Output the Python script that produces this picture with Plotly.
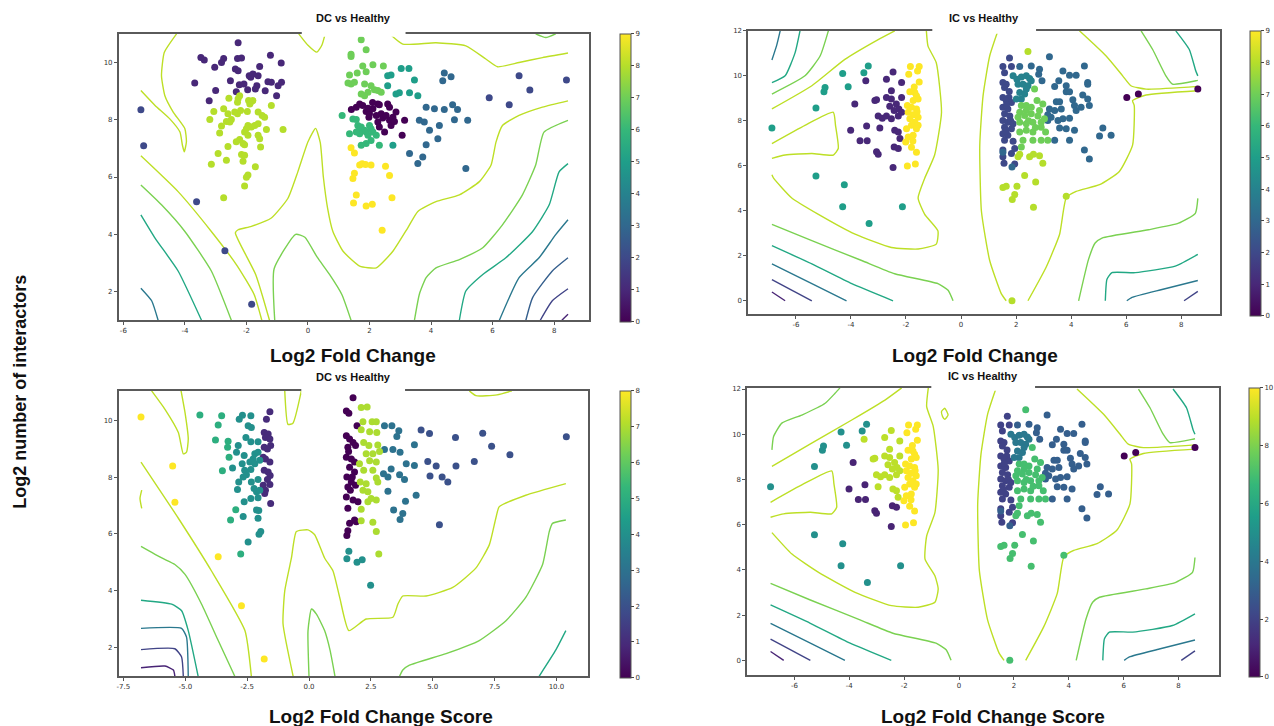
import plotly.graph_objects as go

# ---------------- colours of contour levels ----------------
LVL = {"yg": "#bddf26", "g": "#7ad151", "tg": "#22a884", "t": "#2a788e",
       "b2": "#355f8d", "b": "#414487", "p": "#482475"}

# ================= Panel 1 : DC vs Healthy, Log2 Fold Change =================
dc_fc_c0 = [(1.41,8.36),(1.57,8.44),(1.68,8.55),(1.78,8.5),(1.89,8.29),(1.98,8.09),(2.0,8.21),(2.11,8.38),
            (2.27,8.55),(2.32,8.52),(2.22,8.15),(2.27,7.92),(2.38,8.21),(2.43,8.06),(2.54,8.15),(2.59,8.55),
            (2.65,8.44),(2.65,7.98),(2.7,7.8),(2.76,8.09),(2.86,8.27),(2.81,7.94),(3.14,7.98),(3.06,7.46),
            (2.49,7.57),(2.32,7.75),(1.95,8.4),(2.1,8.6)]
dc_fc_c1 = [(-2.27,10.69),(-3.48,10.17),(-3.37,10.09),(-2.74,10.14),(-2.29,10.14),(-2.16,10.16),(-1.22,10.25),
            (-3.03,9.83),(-2.81,10.0),(-2.36,9.77),(-2.27,9.71),(-1.57,9.86),(-0.87,9.98),(-3.68,9.28),(-3.0,9.02),
            (-2.52,9.36),(-2.23,9.22),(-2.08,9.25),(-1.91,9.54),(-1.86,9.48),(-1.79,9.6),(-1.62,9.54),(-1.66,9.19),
            (-1.71,9.07),(-1.39,9.01),(-1.3,9.33),(-1.19,9.31),(-0.97,9.19),(-0.86,9.31),(-1.96,9.05),(-2.33,8.98),
            (-3.21,8.66),(-1.02,8.84)]
dc_fc_c2 = [(-5.43,8.35),(-5.34,7.09),(-3.62,5.14),(-2.7,3.43),(-1.83,1.56),
            (5.89,8.77),(6.54,8.52),(6.86,9.54),(7.21,9.04),(8.40,9.39)]
dc_fc_c3 = [(4.43,9.63),(4.38,9.36),(4.65,9.5),(3.84,8.44),(4.11,8.38),(4.43,8.36),(4.70,8.52),(4.86,8.36),
            (3.62,7.98),(3.78,7.92),(4.27,7.8),(4.76,8.0),(5.19,7.98),(3.95,7.63),(4.22,7.34),(3.84,7.13),
            (3.30,6.82),(3.73,6.70),(3.57,6.47),(5.13,6.30)]
dc_fc_c5 = [(2.59,9.54),(2.70,9.56),(3.03,9.79),(3.28,9.79),(2.59,9.19),(2.86,8.9),(2.97,8.94),(3.3,8.94),
            (3.57,8.84),(2.76,7.11),(3.46,9.39)]
dc_fc_c6 = [(1.11,8.15),(1.46,8.03),(1.57,8.01),(1.62,7.8),(1.68,7.69),(1.73,7.75),(1.84,7.63),(1.89,7.57),
            (2.0,7.8),(2.05,7.69),(2.11,7.57),(1.68,7.51),(1.57,7.57),(1.35,7.51),(1.95,7.46),(2.22,7.46),
            (2.05,7.28),(1.89,7.17),(2.32,7.11),(1.73,7.11)]
dc_fc_c7 = [(1.73,10.79),(1.89,10.44),(1.40,10.29),(1.40,10.21),(1.78,9.88),(2.11,9.92),(2.45,9.88),(1.35,9.56),
            (1.6,9.63),(1.89,9.68),(1.30,9.28),(1.40,9.25),(1.51,9.31),(1.84,9.25),(1.95,8.96),(2.16,9.05),
            (2.27,9.02),(2.38,8.96),(1.73,8.9),(1.84,8.84),(2.05,9.19)]
dc_fc_c8 = [(-2.57,8.75),(-2.27,8.73),(-2.22,8.84),(-2.29,8.61),(-1.93,8.67),(-1.84,8.64),(-1.79,8.67),(-1.89,8.55),
            (-3.06,8.29),(-2.74,8.38),(-2.6,8.21),(-2.38,8.27),(-2.29,8.21),(-2.19,8.32),(-2.49,8.01),(-2.65,7.94),
            (-2.54,7.92),(-3.19,8.01),(-1.97,8.29),(-1.62,8.27),(-1.49,8.15),(-1.41,8.09),(-1.19,8.5),(-2.81,7.78),
            (-2.87,7.54),(-1.95,7.8),(-1.84,7.75),(-2.0,7.69),(-1.73,7.8),(-1.62,7.86),(-1.35,7.66),(-0.81,7.66),
            (-2.06,7.57),(-1.95,7.46),(-1.62,7.46),(-2.22,7.31),(-2.33,7.23),(-2.6,7.07),(-2.11,7.17),(-2.06,7.13),
            (-1.57,7.34),(-1.54,7.05),(-2.92,6.82),(-2.65,6.59),(-2.16,6.79),(-2.06,6.76),(-2.11,6.55),(-3.14,6.45),
            (-1.71,6.36),(-1.95,6.07),(-2.0,5.99),(-2.06,5.69),(-2.74,5.28)]
dc_fc_c9 = [(1.40,7.02),(1.51,6.84),(1.68,6.42),(1.76,6.46),(1.87,6.44),(2.05,6.42),(2.52,6.38),(2.65,6.05),
            (1.51,6.13),(1.46,5.95),(1.57,5.37),(1.48,5.09),(1.89,4.99),(2.09,5.05),(2.73,5.28),(2.41,4.14)]
DC_FC_CLUSTERS = [(0, dc_fc_c0), (1, dc_fc_c1), (2, dc_fc_c2), (3, dc_fc_c3), (5, dc_fc_c5),
                  (6, dc_fc_c6), (7, dc_fc_c7), (8, dc_fc_c8), (9, dc_fc_c9)]

DC_FC_LINES = [
    ("yg", [(-5.43,9.02),(-4.97,8.50),(-4.49,8.03),(-4.16,7.57),(-4.08,7.11),(-4.02,6.88),(-3.95,7.23),(-4.0,7.69),
            (-4.38,8.27),(-4.65,8.84),(-4.76,9.54),(-4.67,10.35),(-4.27,11.0)]),
    ("yg", [(-5.43,6.74),(-4.22,5.49),(-3.14,4.10),(-2.3,2.9),(-1.75,1.9),(-1.5,1.0)]),
    ("yg", [(-0.30,11.0),(0.0,10.6),(0.29,10.36),(0.45,10.6),(0.56,11.0)]),
    ("yg", [(2.65,11.0),(3.08,10.64),(4.16,10.69),(5.13,10.58),(5.78,10.12),(6.16,9.85),(6.86,10.0),(7.62,10.17),
            (8.45,10.33)]),
    ("yg", [(-1.25,1.0),(-1.7,2.6),(-2.36,4.05),(-2.27,4.16),(-1.84,4.28),(-1.19,4.57),(-0.65,5.26),(-0.33,6.18),
            (0.0,7.23),(0.25,7.7),(0.4,7.2),(0.5,6.0),(0.64,4.9),(0.81,4.10),(1.14,3.41),(1.68,2.89),(2.22,2.83),
            (2.76,3.41),(3.24,4.22),(3.57,4.80),(4.16,5.14),(4.92,5.38),(5.57,5.84),(5.95,6.42),(6.11,7.22),
            (6.32,7.80),(6.86,8.15),(7.62,8.44),(8.45,8.66)]),
    ("g", [(-1.08,1.0),(-1.1,2.8),(-0.4,4.0),(-0.1,3.9),(0.3,3.2),(0.7,2.6),(1.1,1.9),(1.4,1.0)]),
    ("g", [(-5.43,5.72),(-4.76,5.03),(-4.0,4.10),(-3.14,2.72),(-2.49,1.0)]),
    ("tg", [(-5.43,4.68),(-4.97,3.87),(-4.22,2.72),(-3.46,1.0)]),
    ("t", [(-5.43,2.12),(-5.08,1.68),(-4.87,1.0)]),
    ("g", [(7.4,11.0),(7.73,10.87),(8.05,11.0)]),
    ("g", [(8.45,7.98),(7.67,7.57),(7.40,6.42),(6.97,5.38),(6.32,4.33),(5.68,3.53),(4.92,3.12),(4.16,2.83),
           (3.84,2.49),(3.62,1.91),(3.46,1.0)]),
    ("tg", [(8.45,6.47),(8.16,6.18),(7.84,5.03),(7.30,4.10),(6.43,3.18),(5.68,2.60),(5.13,2.02),(4.92,1.0)]),
    ("t", [(8.45,4.51),(8.05,3.99),(7.51,3.18),(6.86,2.49),(6.22,1.0)]),
    ("b2", [(8.45,3.18),(7.94,2.72),(7.30,1.79),(7.08,1.0)]),
    ("b", [(8.45,2.1),(7.94,1.68),(7.55,1.0)]),
    ("p", [(8.45,1.21),(8.25,1.0)]),
]

# ================= Panel 3 : DC vs Healthy, Log2 Fold Change Score =================
dc_sc_c0 = [(1.78,10.8),(1.51,10.33),(1.61,10.25),(1.94,9.81),(1.51,9.46),(1.64,9.34),(1.78,9.22),(1.57,9.05),
            (1.88,9.11),(1.51,8.7),(1.71,8.64),(1.84,8.53),(1.64,8.35),(1.84,8.18),(1.53,8.0),(1.71,7.83),
            (1.88,7.71),(1.57,7.65),(1.67,7.54),(1.51,7.3),(1.78,7.19),(1.98,7.13),(1.57,6.9),(1.84,6.49),
            (1.64,6.37),(1.57,6.11),(1.53,5.94),(1.91,6.43),(1.6,8.9),(1.75,8.0)]
dc_sc_c1 = [(-1.58,10.3),(-1.72,10.04),(-1.81,9.57),(-1.65,9.52),(-1.76,9.4),(-1.58,9.34),(-1.55,9.11),(-1.81,9.05),
            (-1.68,8.99),(-1.85,8.7),(-1.76,8.64),(-1.58,8.53),(-1.81,8.24),(-1.65,8.18),(-1.57,8.06),(-1.68,7.92),
            (-1.85,7.71),(-1.58,7.74),(-1.76,7.54),(-1.55,7.07),(-1.79,7.42)]
dc_sc_c2 = [(5.92,9.4),(7.02,9.55),(7.38,9.09),(8.12,8.79),(10.4,9.42),(5.14,8.39),(5.94,8.39),(6.68,8.55),
            (5.38,8.0),(5.61,7.83),(5.27,6.32),(4.87,9.54),(4.53,9.66),(4.80,8.55),(4.89,8.04)]
dc_sc_c3 = [(3.05,9.81),(3.35,9.81),(3.55,9.43),(3.63,9.63),(4.26,9.14),(3.05,8.97),(3.39,8.97),(3.68,8.88),
            (3.93,8.47),(4.26,8.41),(3.32,8.29),(3.01,8.12),(3.19,8.0),(3.66,8.08),(3.86,7.92),(3.19,7.5),
            (4.33,7.36),(3.90,7.15),(3.42,6.84),(3.79,6.72),(3.68,6.51)]
dc_sc_c4 = [(-3.09,8.32),(-2.82,10.04),(-2.69,10.18),(-2.35,10.16),(-2.46,9.81),(-2.33,9.75),(-2.55,9.4),(-2.86,9.11),
            (-2.35,9.25),(-2.06,9.25),(-2.93,8.88),(-2.62,8.76),(-2.19,8.82),(-2.06,8.88),(-2.26,8.64),(-2.39,8.53),
            (-2.7,8.47),(-2.19,8.47),(-1.99,8.59),(-2.6,8.24),(-2.35,8.27),(-2.66,8.0),(-2.53,8.08),(-2.84,7.83),
            (-2.33,7.83),(-2.06,7.92),(-2.89,7.56),(-2.22,7.6),(-2.12,7.48),(-1.99,7.54),(-2.06,7.27),(-2.62,7.13),
            (-2.35,7.25),(-2.12,6.84),(-2.03,6.82),(-2.66,6.61),(-2.06,6.55),(-1.95,6.08),(-2.02,5.99),(-2.46,5.71),
            (1.61,5.39),(1.53,5.12),(1.94,5.0),(2.15,5.09),(2.49,4.19)]
dc_sc_c5 = [(-4.41,10.19),(-3.53,10.16),(-3.67,9.84),(-3.78,9.31),(-3.27,9.26),(-3.29,9.05),(-3.23,8.7),(-3.5,8.22),
            (-2.96,6.85),(-3.17,6.49),(-2.76,5.29)]
dc_sc_c7 = [(2.11,10.45),(2.35,10.47),(2.18,9.95),(2.55,9.95),(2.72,9.95),(2.11,9.67),(2.45,9.6),(2.74,9.57),
            (2.21,9.22),(2.42,9.11),(2.78,9.13),(2.85,8.9),(2.31,8.82),(2.58,8.82),(2.45,8.58),(2.72,8.53),
            (2.04,8.47),(2.21,8.24),(2.58,8.24),(2.72,7.97),(2.78,7.83),(2.31,7.77),(2.07,7.83),(2.18,7.54),
            (2.38,7.48),(2.51,7.25),(2.72,7.19),(2.38,7.13),(2.11,6.87),(2.11,6.46),(2.58,6.41),(2.72,6.08),
            (2.82,5.29)]
dc_sc_c8 = [(-6.79,10.12),(-5.51,8.39),(-5.42,7.11),(-3.67,5.19),(-2.73,3.47),(-1.81,1.59)]
DC_SC_CLUSTERS = [(0, dc_sc_c0), (1, dc_sc_c1), (2, dc_sc_c2), (3, dc_sc_c3), (4, dc_sc_c4),
                  (5, dc_sc_c5), (7, dc_sc_c7), (8, dc_sc_c8)]

DC_SC_LINES = [
    ("yg", [(-6.36,11.04),(-5.82,10.39),(-5.28,9.57),(-5.08,8.82),(-4.95,8.88),(-4.88,9.34),(-5.01,10.27),(-5.17,11.04)]),
    ("yg", [(-6.79,8.53),(-5.28,6.55),(-3.94,4.69),(-2.59,2.59),(-2.33,0.98)]),
    ("yg", [(-6.76,7.54),(-6.83,7.25),(-6.76,6.9)]),
    ("g", [(-6.79,5.56),(-5.95,5.15),(-5.42,4.92),(-5.01,4.57),(-4.34,3.52),(-3.67,2.24),(-3.0,0.98)]),
    ("tg", [(-6.79,3.66),(-5.55,3.52),(-5.15,3.29),(-4.88,2.59),(-4.48,0.98)]),
    ("t", [(-6.79,2.67),(-5.15,2.67),(-4.95,2.36),(-4.88,0.98)]),
    ("b", [(-6.79,1.92),(-5.42,1.95),(-5.15,1.66),(-5.08,0.98)]),
    ("p", [(-6.79,1.28),(-5.82,1.34),(-5.48,1.2),(-5.42,0.98)]),
    ("yg", [(-0.98,11.04),(-0.85,9.86),(-0.65,9.9),(-0.31,11.04)]),
    ("yg", [(-0.64,0.98),(-1.05,2.83),(-0.98,3.99),(-0.71,5.15),(-0.51,6.08),(-0.04,6.14),(0.23,5.97),(0.63,5.15),
            (0.97,4.69),(1.24,3.76),(1.61,2.59),(2.31,3.0),(3.39,3.06),(3.59,3.52),(3.79,3.81),(4.73,3.81),
            (5.81,4.11),(6.75,4.80),(7.29,5.62),(7.55,6.55),(7.69,6.96),(8.76,7.36),(10.38,7.77)]),
    ("yg", [(6.48,11.04),(6.75,10.87),(7.6,10.9),(8.2,11.04)]),
    ("g", [(0.0,0.98),(-0.04,2.59),(0.10,3.35),(0.30,3.17),(0.63,2.59),(0.85,1.9),(1.05,0.98)]),
    ("g", [(10.38,6.49),(9.84,6.37),(9.71,6.08),(9.44,4.92),(8.76,3.76),(7.96,2.94),(6.88,2.24),(5.54,1.78),
           (4.06,1.37),(3.79,1.2),(3.66,0.98)]),
    ("tg", [(10.38,2.59),(9.97,1.9),(9.3,0.98)]),
]

# ================= Panels 2 & 4 : IC vs Healthy (same points, two clusterings) =================
ic_outliers = [(-6.87,7.68),(-5.27,8.57),(-4.98,9.29),(-4.94,9.48),(-4.3,10.1),(-4.1,9.51),(-3.53,10.14),
               (-3.37,10.44),(-5.27,5.55),(-4.24,5.16),(-4.3,4.18),(-2.13,4.18),(-3.34,3.44)]
ic_left_dark_low = [(-3.86,8.75),(-4.01,7.58),(-3.43,7.77),(-3.67,7.11),(-3.41,7.11),(-3.07,6.62),(-3.01,6.51),
                    (-2.43,6.84),(-2.28,6.77),(-2.47,5.92)]
ic_left_dark_up = [(-2.47,10.17),(-3.46,9.78),(-2.71,9.85),(-2.16,9.7),(-2.53,9.34),(-3.13,8.9),(-3.07,8.94),
                   (-2.71,9.04),(-2.53,8.97),(-2.16,9.04),(-2.59,8.65),(-2.35,8.75),(-2.26,8.53),(-2.43,8.46),
                   (-3.01,8.21),(-2.86,8.12),(-2.71,8.21),(-2.53,8.09),(-2.28,8.21),(-2.16,8.38),(-2.95,7.68),
                   (-2.41,7.58),(-2.28,7.5),(-2.22,7.21)]
ic_left_yellow = [(-1.84,10.41),(-1.52,10.41),(-1.58,10.22),(-1.9,10.07),(-1.52,9.73),(-1.86,9.29),(-1.68,9.26),
                  (-1.62,9.12),(-1.56,8.97),(-1.74,8.9),(-1.95,8.68),(-1.8,8.6),(-1.62,8.53),(-1.92,8.38),
                  (-1.74,8.27),(-1.56,8.16),(-1.86,8.09),(-1.68,7.94),(-1.56,7.8),(-1.8,7.8),(-1.98,7.65),
                  (-1.62,7.65),(-1.92,7.28),(-1.74,7.36),(-2.01,7.06),(-1.8,6.82),(-1.62,6.6),(-1.95,5.99),
                  (-1.66,6.08),(-1.7,9.5),(-1.6,8.4),(-1.75,7.1)]
ic_right_column = [(1.76,10.79),(1.52,10.41),(1.83,10.41),(1.58,10.14),(1.52,9.7),(1.64,9.63),(1.58,9.48),
                   (1.52,9.04),(1.74,9.04),(1.64,8.9),(1.83,8.82),(1.52,8.6),(1.70,8.53),(1.58,8.31),(1.77,8.21),
                   (1.52,8.02),(1.70,7.94),(1.58,7.72),(1.83,7.65),(1.52,7.43),(1.70,7.36),(1.58,7.14),(1.89,7.09),
                   (1.52,6.7),(1.83,6.55),(1.52,6.4),(1.95,6.77),(1.56,6.11),(1.95,6.08),(1.89,7.87),(1.65,8.7),
                   (1.8,8.0),(1.62,7.55),(1.75,9.3)]
ic_right_teal = [(1.89,10.0),(2.03,9.85),(2.19,9.95),(2.37,10.0),(2.49,9.88),(2.07,9.63),(2.25,9.63),(2.43,9.56),
                 (2.13,9.26),(2.31,9.19),(2.19,8.97),(2.01,8.97),(2.37,9.41),(2.55,9.78)]
ic_right_spread = [(2.13,10.41),(2.55,10.44),(2.85,10.29),(3.21,10.85),(2.82,10.07),(2.94,9.78),(3.70,10.22),
                   (3.94,10.03),(4.18,10.03),(4.48,10.44),(3.40,9.53),(3.82,9.56),(3.55,9.78),(4.6,9.7),(4.6,9.63),
                   (3.82,9.29),(3.94,9.29),(4.42,9.15),(4.6,8.97),(3.46,8.85),(3.58,8.85),(4.06,8.94),(4.12,8.68),
                   (4.18,8.46),(4.36,8.6),(4.66,8.68),(3.21,8.53),(3.40,8.46),(3.64,8.53),(3.27,8.16),(3.52,8.02),
                   (3.70,8.09),(3.94,8.12),(3.15,8.02),(3.58,7.68),(3.82,7.65),(4.12,7.58),(3.40,7.14),(3.94,7.14),
                   (5.15,7.68),(5.03,7.33),(5.45,7.36),(4.48,6.7),(4.66,6.30),(3.15,8.27),(1.52,6.6),(1.85,5.95)]
ic_right_green = [(2.67,9.41),(2.76,8.9),(2.19,8.68),(2.37,8.68),(2.55,8.6),(2.13,8.38),(2.37,8.46),(2.85,8.46),
                  (2.97,8.75),(2.07,8.16),(2.31,8.24),(2.55,8.31),(2.79,8.21),(3.03,8.09),(2.13,7.94),(2.37,7.87),
                  (2.61,7.94),(2.91,7.94),(2.13,7.5),(2.37,7.58),(2.61,7.5),(3.07,7.5),(2.91,7.72),(2.61,7.14),
                  (2.91,7.14),(3.15,7.14),(2.25,7.14),(2.19,6.84),(2.45,8.0),(2.7,7.7)]
ic_right_low = [(2.13,6.51),(2.07,6.4),(2.49,6.4),(2.63,6.51),(2.85,6.45),(2.97,6.11),(2.31,5.57),(2.71,5.28),
                (1.52,5.04),(1.64,5.09),(2.03,5.09),(1.95,4.72),(1.86,4.5),(2.63,4.16),(3.82,4.65),(1.85,0.0),
                (2.43,11.08)]
ic_far = [(6.02,9.04),(6.44,9.19),(8.6,9.41)]
# (points, cluster in "Log2 Fold Change" panel, cluster in "Log2 Fold Change Score" panel)
IC_GROUPS = [(ic_outliers, 5, 5), (ic_left_dark_low, 1, 1), (ic_left_dark_up, 1, 9), (ic_left_yellow, 9, 10),
             (ic_right_column, 2, 2), (ic_right_teal, 4, 4), (ic_right_spread, 3, 3), (ic_right_green, 7, 7),
             (ic_right_low, 8, 7), (ic_far, 0, 0)]

IC_COMMON_LINES = [
    ("yg", [(-6.87,6.99),(-5.67,7.8),(-4.64,8.38),(-4.56,7.80),(-4.46,6.77),(-4.64,6.48),(-5.42,6.55),(-6.39,6.48),(-6.87,6.33)]),
    ("g", [(-6.87,3.4),(-5.42,2.67),(-3.61,1.79),(-2.41,1.20),(-0.84,0.76),(-0.47,0.47),(-0.29,0.0)]),
    ("tg", [(-6.87,2.45),(-5.42,1.64),(-3.97,0.76),(-2.47,0.0)]),
    ("t", [(-6.87,1.64),(-5.42,0.76),(-4.16,0.0)]),
    ("b", [(-6.87,0.94),(-5.42,0.0)]),
    ("p", [(-6.87,0.39),(-6.39,0.0)]),
    ("yg", [(1.34,12.0),(1.04,10.88),(0.80,9.12),(0.68,6.92),(0.74,3.98),(1.04,1.79),(1.46,0.32),(1.64,0.0)]),
    ("yg", [(2.43,0.0),(3.09,1.49),(3.58,2.96),(3.82,4.57),(4.18,4.86),(5.03,5.16),(5.75,5.75),(6.23,6.92),
            (6.29,8.68),(6.23,8.9),(6.72,9.15),(8.6,9.34)]),
    ("yg", [(8.6,9.53),(6.72,9.41),(6.17,9.56),(5.87,10.0),(5.27,10.88),(4.30,12.0)]),
    ("g", [(6.54,12.0),(6.96,11.17),(7.44,10.0),(7.68,9.63),(8.53,9.78),(8.6,9.8)]),
    ("tg", [(7.80,12.0),(8.29,11.17),(8.53,10.2),(8.6,10.0)]),
    ("g", [(8.6,4.55),(8.51,3.89),(7.90,3.45),(6.81,3.16),(5.12,2.79),(4.87,2.57),(4.63,1.84),(4.27,0.0)]),
    ("tg", [(8.6,2.06),(7.78,1.54),(6.33,1.25),(5.48,1.25),(5.30,0.96),(5.24,0.0)]),
    ("t", [(8.6,0.9),(7.3,0.5),(6.21,0.15),(6.02,0.0)]),
    ("b", [(8.6,0.42),(8.1,0.0)]),
]
IC_FC_LINES = IC_COMMON_LINES + [
    ("t", [(-6.87,10.70),(-6.69,11.39),(-6.57,12.0)]),
    ("tg", [(-6.87,9.70),(-6.39,10.0),(-6.03,11.02),(-5.85,12.0)]),
    ("g", [(-6.87,9.19),(-5.67,10.0),(-5.12,10.88),(-4.82,12.0)]),
    ("yg", [(-6.87,8.53),(-5.42,9.56),(-4.22,10.73),(-3.01,11.61),(-2.41,12.0)]),
    ("yg", [(-1.26,12.0),(-1.20,11.32),(-0.90,10.58),(-0.71,8.38),(-0.96,6.48),(-1.32,5.45),(-1.56,4.57),(-1.32,3.84),
            (-0.84,3.11),(-0.90,2.52),(-1.56,2.30),(-2.53,2.37),(-3.85,2.96),(-5.18,3.84),(-6.15,4.57),(-6.81,5.45),(-6.87,5.6)]),
]
IC_SC_LINES = IC_COMMON_LINES + [
    ("g", [(-6.82,9.31),(-6.76,9.9),(-6.46,10.49),(-5.73,10.85),(-4.88,11.37),(-4.52,11.81),(-4.34,12.05)]),
    ("yg", [(-6.82,8.58),(-5.37,9.61),(-3.91,10.63),(-2.7,11.51),(-2.09,12.05)]),
    ("yg", [(-1.12,12.05),(-1.18,11.22),(-0.94,10.34),(-0.76,8.43),(-0.88,6.53),(-1.18,5.50),(-1.24,4.48),(-0.88,3.74),
            (-0.76,3.16),(-0.88,2.57),(-1.49,2.35),(-2.46,2.42),(-3.79,3.01),(-5.12,3.89),(-6.09,4.7),(-6.82,5.65)]),
    ("yg", [(-0.64,11.0),(-0.52,11.15),(-0.40,10.85),(-0.52,10.66),(-0.6,10.78),(-0.64,11.0)]),
]

TITLES = ["DC vs Healthy", "IC vs Healthy", "DC vs Healthy", "IC vs Healthy"]
X_TITLE_TOP = "Log2 Fold Change"
X_TITLE_BOTTOM = "Log2 Fold Change Score"
Y_TITLE = "Log2 number of interactors"

W, H = 1274, 726
def px(x): return x / W
def py(y): return 1 - y / H

# panel geometry (pixels): left, right, top, bottom ; title y ; axis ranges ; colour-bar x ; cmax
PANELS = [
    dict(box=(117, 588, 30, 318), ty=14, xr=(-6.15, 9.12), yr=(1.0, 11.0), cbx=619, cmax=9,
         xt=[-6, -4, -2, 0, 2, 4, 6, 8], xfmt="d", yt=[2, 4, 6, 8, 10], cbt=list(range(10))),
    dict(box=(748, 1221, 27, 312), ty=14, xr=(-7.73, 9.41), yr=(-0.6, 12.0), cbx=1251, cmax=9,
         xt=[-6, -4, -2, 0, 2, 4, 6, 8], xfmt="d", yt=[0, 2, 4, 6, 8, 10, 12], cbt=list(range(10))),
    dict(box=(117, 587, 389, 676), ty=375, xr=(-7.69, 11.26), yr=(0.98, 11.04), cbx=619, cmax=8,
         xt=[-7.5, -5.0, -2.5, 0.0, 2.5, 5.0, 7.5, 10.0], xfmt=".1f", yt=[2, 4, 6, 8, 10], cbt=list(range(9))),
    dict(box=(747, 1220, 386, 675), ty=374, xr=(-7.72, 9.48), yr=(-0.66, 12.05), cbx=1250, cmax=10,
         xt=[-6, -4, -2, 0, 2, 4, 6, 8], xfmt="d", yt=[0, 2, 4, 6, 8, 10, 12], cbt=[0, 2, 4, 6, 8, 10]),
]

def flatten_clusters(clusters):
    xs, ys, cs = [], [], []
    for lab, pts in clusters:
        for (x, y) in pts:
            xs.append(x); ys.append(y); cs.append(lab)
    return xs, ys, cs

def flatten_ic(which):
    xs, ys, cs = [], [], []
    for pts, lab_fc, lab_sc in IC_GROUPS:
        for (x, y) in pts:
            xs.append(x); ys.append(y); cs.append(lab_fc if which == 0 else lab_sc)
    return xs, ys, cs

POINTS = [flatten_clusters(DC_FC_CLUSTERS), flatten_ic(0), flatten_clusters(DC_SC_CLUSTERS), flatten_ic(1)]
LINES = [DC_FC_LINES, IC_FC_LINES, DC_SC_LINES, IC_SC_LINES]

fig = go.Figure()
tick_font = dict(family="DejaVu Sans", size=7, color="#333333")

for i, P in enumerate(PANELS):
    n = "" if i == 0 else str(i + 1)
    xa, ya = "x" + n, "y" + n
    l, r, t, b = P["box"]
    fig.update_layout(**{
        "xaxis" + n: dict(domain=[px(l), px(r)], range=list(P["xr"]), anchor=ya, tickvals=P["xt"],
                          ticktext=[(f"{v:.1f}" if P["xfmt"] == ".1f" else f"{int(v)}") for v in P["xt"]],
                          showgrid=False, zeroline=False, showline=True, mirror=True, linecolor="#5a5a5a",
                          linewidth=1.5, ticks="outside", ticklen=3, tickcolor="#555", tickfont=tick_font),
        "yaxis" + n: dict(domain=[py(b), py(t)], range=list(P["yr"]), anchor=xa, tickvals=P["yt"],
                          showgrid=False, zeroline=False, showline=True, mirror=True, linecolor="#5a5a5a",
                          linewidth=1.5, ticks="outside", ticklen=3, tickcolor="#555", tickfont=tick_font),
    })
    for lvl, pts in LINES[i]:
        fig.add_trace(go.Scatter(x=[p[0] for p in pts], y=[p[1] for p in pts], mode="lines",
                                 line=dict(color=LVL[lvl], width=1.4, shape="spline", smoothing=0.5),
                                 xaxis=xa, yaxis=ya, showlegend=False, hoverinfo="skip"))
    xs, ys, cs = POINTS[i]
    fig.add_trace(go.Scatter(
        x=xs, y=ys, mode="markers", xaxis=xa, yaxis=ya, showlegend=False,
        marker=dict(size=7, color=cs, colorscale="Viridis", cmin=0, cmax=P["cmax"], line=dict(width=0),
                    showscale=True,
                    colorbar=dict(x=px(P["cbx"]), xanchor="left", xpad=0, ypad=0, y=py(t), yanchor="top",
                                  lenmode="pixels", len=(b - t), thickness=11, outlinewidth=1,
                                  outlinecolor="#555", tickvals=P["cbt"], ticks="outside", ticklen=3,
                                  tickfont=dict(family="DejaVu Sans", size=7, color="#333")))))
    # subplot title
    fig.add_annotation(text=f"<b>{TITLES[i]}</b>", x=px((l + r) / 2), y=py(P["ty"]), xref="paper", yref="paper",
                       xanchor="center", yanchor="middle", showarrow=False,
                       font=dict(family="Liberation Sans", size=11, color="#111"))
    # white title box over frame
    fig.add_shape(type="rect", x0=px((l + r) / 2 - 52), x1=px((l + r) / 2 + 52), y0=py(t + 3), y1=py(t - 3),
                  xref="paper", yref="paper", fillcolor="white", line=dict(width=0), layer="above")

for cx in (352, 975):
    fig.add_annotation(text=f"<b>{X_TITLE_TOP}</b>", x=px(cx), y=py(353), xref="paper", yref="paper",
                       xanchor="center", yanchor="middle", showarrow=False,
                       font=dict(family="Liberation Sans", size=19, color="#111"))
for cx in (380, 993):
    fig.add_annotation(text=f"<b>{X_TITLE_BOTTOM}</b>", x=px(cx), y=py(716), xref="paper", yref="paper",
                       xanchor="center", yanchor="middle", showarrow=False,
                       font=dict(family="Liberation Sans", size=19, color="#111"))
fig.add_annotation(text=f"<b>{Y_TITLE}</b>", x=px(18), y=py(390), xref="paper", yref="paper", textangle=-90,
                   xanchor="center", yanchor="middle", showarrow=False,
                   font=dict(family="Liberation Sans", size=18, color="#111"))

fig.update_layout(width=W, height=H, margin=dict(l=0, r=0, t=0, b=0), paper_bgcolor="white",
                  plot_bgcolor="white", showlegend=False)
fig.write_html("out.html", config={"displayModeBar": False},
               post_script="document.body.style.margin='0';")
